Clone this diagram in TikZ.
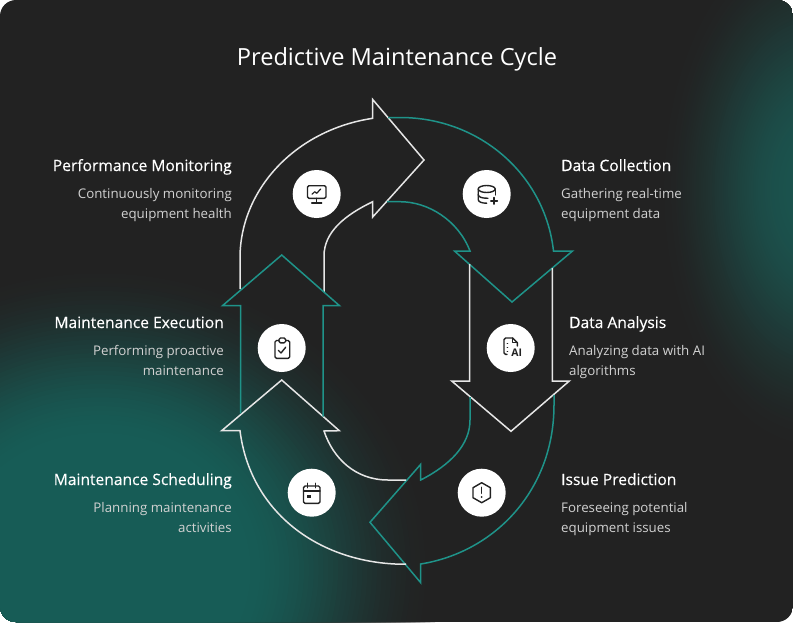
\documentclass[tikz,border=0pt]{standalone}
\usepackage{fontspec}
\setmainfont{Open Sans}
\newfontfamily\headfont[FakeBold=0.3]{Open Sans}
\definecolor{bgdark}{HTML}{222222}
\definecolor{glowa}{HTML}{175C56}
\definecolor{glowb}{HTML}{1B524D}
\definecolor{tealline}{HTML}{1F9389}
\definecolor{whiteline}{HTML}{E6E6E6}
\definecolor{bodytext}{HTML}{D2D2D2}
\tikzset{
  whitearrow/.style={draw=whiteline,line width=1.5pt,miter limit=10},
  tealarrow/.style={draw=tealline,line width=1.5pt,miter limit=10},
  iconbg/.style={circle,fill=white,minimum size=48pt,inner sep=0pt},
  icon/.style={draw=bgdark,line width=1.4pt,line cap=round,line join=round},
  heading/.style={font=\headfont\fontsize{15.6}{18}\selectfont,text=white,inner sep=0pt},
  bodyr/.style={font=\fontsize{13.3}{20}\selectfont,text=bodytext,inner sep=0pt,align=right,anchor=east},
  bodyl/.style={font=\fontsize{13.3}{20}\selectfont,text=bodytext,inner sep=0pt,align=left,anchor=west},
}
\begin{document}
\begin{tikzpicture}[x=1pt,y=-1pt]
\useasboundingbox (0,0) rectangle (793,622);
\fill[white] (0,0) rectangle (793,622);
\begin{scope}
\clip[rounded corners=16pt] (0,0) rectangle (793,622);
\fill[bgdark] (0,0) rectangle (793,622);
\foreach \i in {0,...,69}{
  \pgfmathsetmacro{\t}{1-\i/70}
  \pgfmathsetmacro{\s}{max(0,(\t-0.42)/0.58)}
  \pgfmathsetmacro{\p}{100*(1-\s*\s*(3-2*\s))}
  \fill[glowa!\p!bgdark] (100,570) ellipse ({340*\t} and {310*\t});
}
\foreach \i in {0,...,69}{
  \pgfmathsetmacro{\t}{1-\i/70}
  \pgfmathsetmacro{\s}{max(0,(\t-0.15)/0.85)}
  \pgfmathsetmacro{\p}{100*(1-\s*\s*(3-2*\s))}
  \fill[glowb!\p!bgdark] (815,190) ellipse ({160*\t} and {270*\t});
}
\end{scope}

\node[font=\fontsize{23.6}{26}\selectfont,text=white,inner sep=0pt,anchor=base] (title) at (397,65) {Predictive Maintenance Cycle};

% arrows
\draw[whitearrow] (240,289) -- (240,258) .. controls (240,190) and (295,130) .. (372.7,118.3)
  -- (372.7,99.5) -- (424,160) -- (372.7,217) -- (372.7,201.7)
  .. controls (345,215) and (324,232) .. (324,256) -- (324,292);
\draw[tealarrow] (388,117.5) -- (400,117.5) .. controls (480,117.5) and (545,175) .. (553.5,251)
  -- (572.5,251) -- (512,302) -- (454.5,251) -- (470,251)
  .. controls (458,220) and (428,201.7) .. (400,201.7) -- (387,201.7);
\draw[whitearrow] (469.7,264) -- (469.7,381) -- (451.7,381) -- (511,431.3) -- (569.3,381) -- (552.4,381) -- (552.4,268);
\draw[tealarrow] (554,395) -- (554,405) .. controls (554,490) and (495,552) .. (420.7,564)
  -- (420.7,582.7) -- (370,522.3) -- (420.7,464.3) -- (420.7,480)
  .. controls (450,465) and (470,445) .. (470,420) -- (470,397);
\draw[whitearrow] (406,564) -- (395,564) .. controls (315,560) and (250,510) .. (240,430.7)
  -- (221.7,430.7) -- (281.7,380) -- (339.3,430.7) -- (324,431)
  .. controls (333,458) and (355,480) .. (388,480) -- (406,480);
\draw[tealarrow] (240.7,413.3) -- (240.7,305.5) -- (222.7,305.5) -- (281.7,255) -- (339.3,305.5) -- (323,305.5) -- (323,416.7);

% icon discs
\node[iconbg] (imon) at (316.7,194) {};
\node[iconbg] (idb) at (486.7,194) {};
\node[iconbg] (iai) at (510.7,348) {};
\node[iconbg] (iclip) at (281.7,348) {};
\node[iconbg] (ical) at (311.7,492.7) {};
\node[iconbg] (ihex) at (481.7,492.7) {};

% monitor
\draw[icon,rounded corners=1.5pt] (307.5,185.7) rectangle (326,198.3);
\draw[icon] (316.7,198.3) -- (316.7,202.5) (311.7,202.8) -- (321.7,202.8);
\draw[icon,line width=1.2pt] (312,194.3) -- (314.7,191.7) -- (316.7,193.3) -- (320.7,189);
% database
\draw[icon] (486.7,189) ellipse (8.5 and 3.5);
\draw[icon] (478.2,189) -- (478.2,199.5) .. controls (478.2,202) and (482,203.2) .. (486.7,203.2);
\draw[icon] (495.2,189) -- (495.2,195);
\draw[icon] (478.2,194.5) .. controls (478.2,197) and (482,198.2) .. (486.7,198.2) -- (488,198.2);
\draw[icon] (490.8,200.8) -- (497.4,200.8) (494.1,197.5) -- (494.1,204.1);
% AI document
\draw[icon] (507,354.3) -- (505.5,354.3) .. controls (504.5,354.3) and (504,353.8) .. (504,352.8) -- (504,339.5) .. controls (504,338.5) and (504.5,338) .. (505.5,338) -- (512.7,338) -- (517.3,342.7) -- (517.3,346);
\draw[icon] (512.7,338) -- (512.7,342.7) -- (517.3,342.7);
\draw[icon] (507.3,343.5) -- (507.6,343.5) (507.3,347.5) -- (507.6,347.5) (507.3,351.5) -- (507.6,351.5);
\node[inner sep=0pt,text=bgdark,font=\bfseries\fontsize{10.5}{10.5}\selectfont,anchor=base] (aitext) at (516.8,356.6) {AI};
% clipboard
\draw[icon,rounded corners=1.5pt] (279,340.5) -- (275,340.5) -- (275,358.3) -- (289.7,358.3) -- (289.7,340.5) -- (285.7,340.5);
\draw[icon,rounded corners=1.5pt] (279,338) rectangle (285.7,342.8);
\draw[icon] (278.3,350.3) -- (281,353) -- (285.7,347.2);
% calendar
\draw[icon,rounded corners=1.5pt] (303.5,486) rectangle (320,503.3);
\draw[icon] (303.5,490.8) -- (320,490.8) (307.7,483.3) -- (307.7,487.7) (315.7,483.3) -- (315.7,487.7);
\fill[bgdark] (307.4,495.2) rectangle (310.6,498.4);
% hexagon
\draw[icon] (481.7,482.7) -- (490.4,487.7) -- (490.4,497.7) -- (481.7,502.7) -- (473,497.7) -- (473,487.7) -- cycle;
\draw[icon] (481.7,487.3) -- (481.7,493.3);
\fill[bgdark] (481.7,497) circle (1);

% labels
\node[heading,anchor=base east] (h1) at (232,171) {Performance Monitoring};
\node[bodyr] (b1) at (232,204) {\strut Continuously monitoring\\\strut equipment health};
\node[heading,anchor=base east] (h2) at (224,328) {Maintenance Execution};
\node[bodyr] (b2) at (224,361) {\strut Performing proactive\\\strut maintenance};
\node[heading,anchor=base east] (h3) at (232,485) {Maintenance Scheduling};
\node[bodyr] (b3) at (232,518) {\strut Planning maintenance\\\strut activities};
\node[heading,anchor=base west] (h4) at (561,171) {Data Collection};
\node[bodyl] (b4) at (561,204) {\strut Gathering real-time\\\strut equipment data};
\node[heading,anchor=base west] (h5) at (569,328) {Data Analysis};
\node[bodyl] (b5) at (569,361) {\strut Analyzing data with AI\\\strut algorithms};
\node[heading,anchor=base west] (h6) at (561,485) {Issue Prediction};
\node[bodyl] (b6) at (561,518) {\strut Foreseeing potential\\\strut equipment issues};
\end{tikzpicture}
\end{document}
